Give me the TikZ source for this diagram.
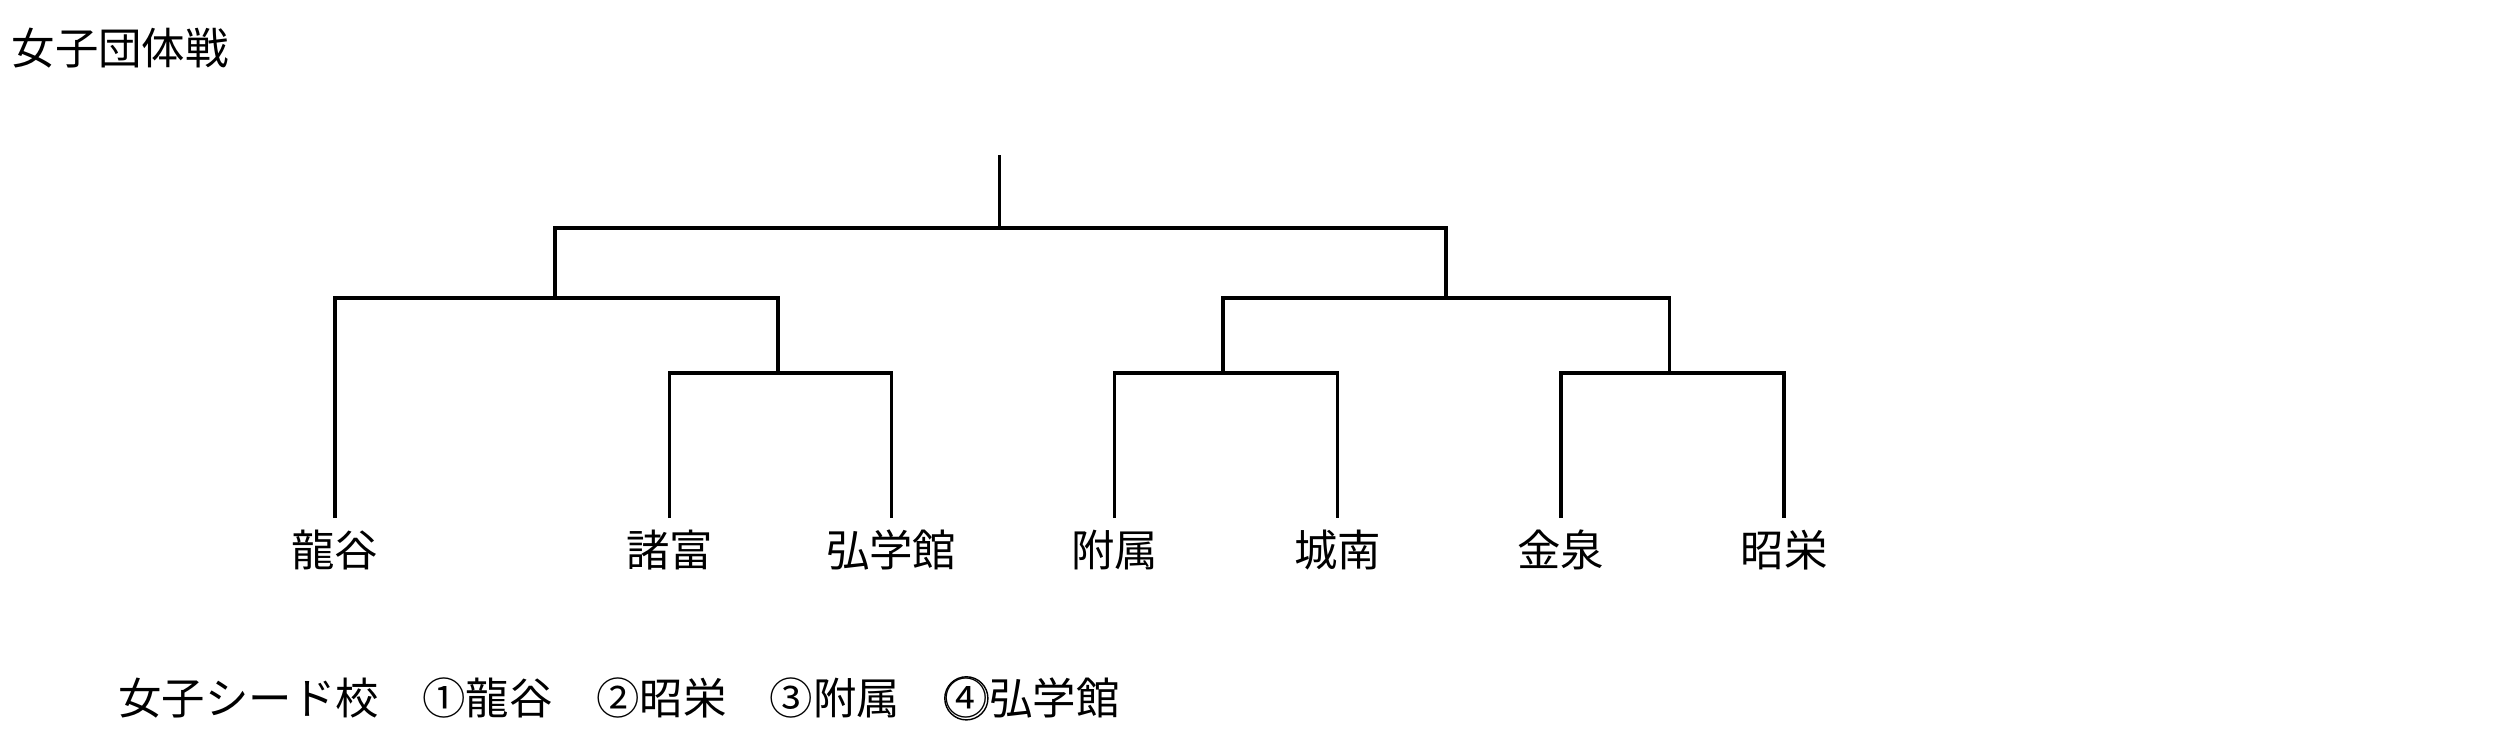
\documentclass[tikz,border=0pt]{standalone}
\usepackage{fontspec}
\setmainfont{Noto Sans CJK JP}
\newcommand{\maru}[1]{\makebox[1em]{#1}}
\usetikzlibrary{positioning,calc}

\begin{document}
\begin{tikzpicture}[x=0.02cm, y=-0.02cm,
                    every node/.style={font=\fontsize{15.5}{18}\selectfont, inner sep=0pt},
                    team/.style={anchor=north, inner ysep=4pt},
                    bracket/.style={line width=1.25pt}]
                    \useasboundingbox (0,0) rectangle (1568,462);

                    \node[anchor=west] (title) at (7,30) {女子団体戦};

                    % teams
                    \node[team] (ryu) at (210,325) {龍谷};
                    \node[team] (mor) at (420,325) {諸富};
                    \node[team] (kog) at (559,325) {弘学館};
                    \node[team] (fuz) at (699,325) {附属};
                    \node[team] (jon) at (839,325) {城南};
                    \node[team] (kin) at (979,325) {金泉};
                    \node[team] (sho) at (1119,325) {昭栄};

                    \coordinate (r1a) at (488,234);
                    \coordinate (r1b) at (767,234);
                    \coordinate (r1c) at (1047,234);
                    \coordinate (r2a) at (348,187);
                    \coordinate (r2b) at (907,187);
                    \coordinate (fin) at (627,143);
                    \coordinate (top) at (627,97);

                    \draw[bracket] (mor.north) |- (r1a) -| (kog.north);
                    \draw[bracket] (fuz.north) |- (r1b) -| (jon.north);
                    \draw[bracket] (kin.north) |- (r1c) -| (sho.north);
                    \draw[bracket] (ryu.north) |- (r2a) -| (r1a);
                    \draw[bracket] (r1b) |- (r2b) -| (r1c);
                    \draw[bracket] (r2a) |- (fin) -| (r2b);
                    \draw[bracket] (fin) -- (top);

                    % seeds
                    \node[anchor=west] (seed) at (74,438) {女子シード校　\maru{①}龍谷　\maru{②}昭栄　\maru{③}附属　};
                    \node[base right=0pt of seed] (s4) {\maru{④}};
                    \node[base right=0pt of s4] (s4name) {弘学館};
                    \draw[line width=0.5pt] (s4.center) circle [radius=7.7pt];
                \end{tikzpicture}
\end{document}
